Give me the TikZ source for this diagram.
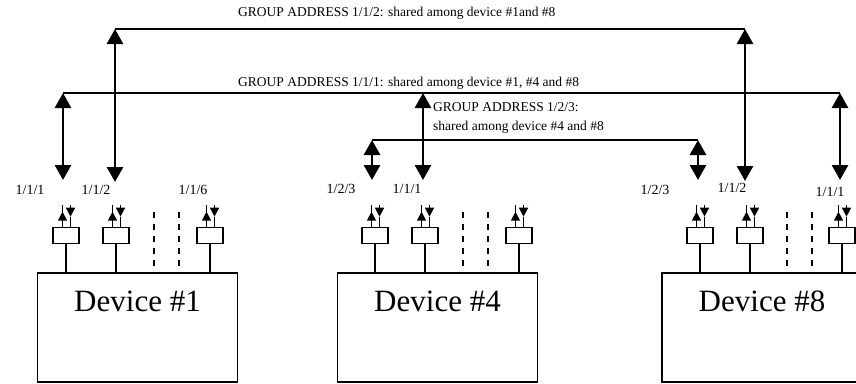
\documentclass[tikz,border=0pt]{standalone}
\usepackage{fontspec}
\setmainfont{Liberation Serif}
\usetikzlibrary{arrows.meta}
\tikzset{
  device/.style={draw, line width=1.9pt, minimum width=200pt, minimum height=109pt, inner sep=0pt},
  devtext/.style={font=\fontsize{31}{34}\selectfont, inner sep=0pt},
  portbox/.style={draw, line width=1.7pt, minimum width=26pt, minimum height=16pt, inner sep=0pt, fill=white},
  portline/.style={line width=1.7pt},
  dashline/.style={line width=1.5pt, dash pattern=on 6pt off 6pt},
  portlabel/.style={font=\fontsize{14}{16}\selectfont, inner sep=0pt},
  grouplabel/.style={font=\fontsize{13.5}{19}\selectfont, inner sep=0pt, anchor=west, align=left},
  busline/.style={line width=2pt},
  bigarrow/.style={line width=2.8pt, {Triangle[length=15pt,width=16pt]}-{Triangle[length=15pt,width=16pt]}},
  smallline/.style={line width=1.5pt},
  smalltip/.style={line width=1.5pt, -{Triangle[length=9pt,width=9pt]}},
  pics/updown/.style={code={
    \draw[smalltip] (-3.5,0) -- (-3.5,-15);
    \draw[smallline] (-3.5,-15) -- (-3.5,-22);
    \draw[smalltip] (4.5,-22) -- (4.5,-10);
    \draw[smallline] (4.5,-10) -- (4.5,0);
  }}
}
\begin{document}
\begin{tikzpicture}[x=1pt,y=-1pt]
\useasboundingbox (0,0) rectangle (856,383);

% devices
\node[device] (d1) at (137.5,327.5) {};
\node[device] (d4) at (437.5,327.5) {};
\node[device] (d8) at (762,327.5) {};
\node[devtext] (t1) at (137.5,301) {Device \#1};
\node[devtext] (t4) at (437.5,301) {Device \#4};
\node[devtext] (t8) at (762,301) {Device \#8};

% ports
\foreach \n/\x/\d in {p11/66/d1, p12/116/d1, p16/210/d1,
                      p41/375/d4, p42/425/d4, p43/519/d4,
                      p81/700/d8, p82/750/d8, p83/842/d8}{
  \node[portbox] (\n) at (\x,235.5) {};
  \draw[portline] (\n.south) -- (\n.south |- \d.north);
  \pic at (\n.north) {updown};
}

% dashed separators
\foreach \x/\d in {154/d1, 179/d1, 463/d4, 488/d4, 787/d8, 812/d8}{
  \coordinate (s\x) at (\x,212);
  \draw[dashline] (s\x) -- (s\x |- \d.north);
}

% port labels
\node[portlabel] (l11) at (30,190) {1/1/1};
\node[portlabel] (l12) at (96,190) {1/1/2};
\node[portlabel] (l16) at (193,190) {1/1/6};
\node[portlabel] (l41) at (341,189) {1/2/3};
\node[portlabel] (l42) at (407,189) {1/1/1};
\node[portlabel] (l81) at (655,190) {1/2/3};
\node[portlabel] (l82) at (732,188) {1/1/2};
\node[portlabel] (l83) at (830,192) {1/1/1};

% group 1/1/2
\coordinate (a2t) at (115,29);
\coordinate (a2b) at (115,182);
\coordinate (b2t) at (745,29);
\coordinate (b2b) at (745,181);
\draw[busline] (a2t) -- (b2t);
\draw[bigarrow] (a2t) -- (a2b);
\draw[bigarrow] (b2t) -- (b2b);
\node[grouplabel] (g2) at (238,13) {GROUP ADDRESS 1/1/2: shared among device \#1and \#8};

% group 1/1/1
\coordinate (a1t) at (63,93);
\coordinate (a1b) at (63,180);
\coordinate (c1t) at (423,93);
\coordinate (c1b) at (423,180);
\coordinate (e1t) at (840,93);
\coordinate (e1b) at (840,180);
\draw[busline] (a1t) -- (e1t);
\draw[bigarrow] (a1t) -- (a1b);
\draw[bigarrow] (c1t) -- (c1b);
\draw[bigarrow] (e1t) -- (e1b);
\node[grouplabel] (g1) at (238,83) {GROUP ADDRESS 1/1/1: shared among device \#1, \#4 and \#8};

% group 1/2/3
\coordinate (a3t) at (372,140);
\coordinate (a3b) at (372,180);
\coordinate (b3t) at (698,140);
\coordinate (b3b) at (698,180);
\draw[busline] (a3t) -- (b3t);
\draw[bigarrow] (a3t) -- (a3b);
\draw[bigarrow] (b3t) -- (b3b);
\node[grouplabel] (g3) at (433,117.5) {GROUP ADDRESS 1/2/3:\\shared among device \#4 and \#8};
\end{tikzpicture}
\end{document}
